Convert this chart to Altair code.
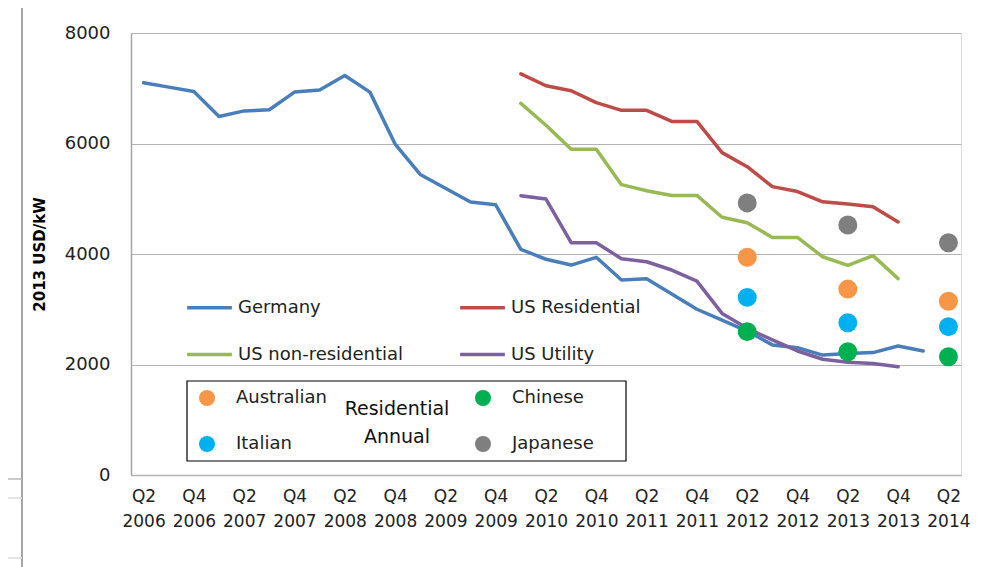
import altair as alt
import pandas as pd

# ---------------- data ----------------
quarters = ["Q2 2006", "Q3 2006", "Q4 2006",
            "Q1 2007", "Q2 2007", "Q3 2007", "Q4 2007",
            "Q1 2008", "Q2 2008", "Q3 2008", "Q4 2008",
            "Q1 2009", "Q2 2009", "Q3 2009", "Q4 2009",
            "Q1 2010", "Q2 2010", "Q3 2010", "Q4 2010",
            "Q1 2011", "Q2 2011", "Q3 2011", "Q4 2011",
            "Q1 2012", "Q2 2012", "Q3 2012", "Q4 2012",
            "Q1 2013", "Q2 2013", "Q3 2013", "Q4 2013",
            "Q1 2014", "Q2 2014"]

germany = [7100, 7020, 6940, 6490, 6590, 6610, 6930, 6970, 7230, 6930, 5990,
           5440, 5190, 4940, 4890, 4085, 3905, 3800, 3940, 3530, 3550, 3275,
           3000, 2805, 2605, 2355, 2305, 2170, 2200, 2215, 2335, 2245]
germany_start = "Q2 2006"

us_residential = [7260, 7045, 6955, 6740, 6600, 6600, 6400, 6400, 5835, 5580,
                  5220, 5130, 4945, 4905, 4855, 4580]
us_nonresidential = [6725, 6330, 5895, 5895, 5255, 5145, 5060, 5060, 4665, 4565,
                     4300, 4300, 3950, 3795, 3970, 3555]
us_utility = [5055, 4995, 4205, 4205, 3915, 3860, 3710, 3510, 2925, 2655,
              2445, 2245, 2095, 2040, 2020, 1960]
us_start = "Q1 2010"

# legend is laid out column by column
line_series = ["Germany", "US non-residential", "US Residential", "US Utility"]
line_colors = ["#4A7EBB", "#98B954", "#BE4B48", "#7D60A0"]

annual_quarters = ["Q2 2012", "Q2 2013", "Q2 2014"]
australian = [3940, 3365, 3145]
chinese = [2595, 2230, 2140]
italian = [3215, 2755, 2685]
japanese = [4925, 4525, 4205]

point_series = ["Australian", "Italian", "Chinese", "Japanese"]
point_colors = ["#F79646", "#00B0F0", "#00B050", "#7F7F7F"]

y_ticks = [0, 2000, 4000, 6000, 8000]

# ---------------- tables ----------------
rows = []
for name, vals, start in [("Germany", germany, germany_start),
                          ("US Residential", us_residential, us_start),
                          ("US non-residential", us_nonresidential, us_start),
                          ("US Utility", us_utility, us_start)]:
    s = quarters.index(start)
    for i, v in enumerate(vals):
        rows.append({"quarter": quarters[s + i], "idx": s + i, "value": v, "series": name})
lines_df = pd.DataFrame(rows)

prow = []
for name, vals in zip(["Australian", "Chinese", "Italian", "Japanese"],
                      [australian, chinese, italian, japanese]):
    for q, v in zip(annual_quarters, vals):
        prow.append({"quarter": q, "value": v, "series": name})
points_df = pd.DataFrame(prow)

FONT = "DejaVu Sans"

x_enc = alt.X("quarter:O",
              scale=alt.Scale(type="point", domain=quarters, padding=0.5),
              axis=alt.Axis(title=None, ticks=False, grid=False,
                            domainColor="#b3b3b3", domainWidth=1.5,
                            labelAngle=0, labelOverlap=False, labelPadding=13,
                            labelFont=FONT, labelFontSize=17, labelColor="#222",
                            labelLineHeight=25, labelBaseline="top",
                            labelExpr="(indexof(datum.value,'Q2')==0 || indexof(datum.value,'Q4')==0) ? split(datum.value,' ') : ''"))
y_enc = alt.Y("value:Q",
              scale=alt.Scale(domain=[0, 8000], nice=False),
              axis=alt.Axis(title="2013 USD/kW", values=y_ticks, ticks=False,
                            format="d",
                            grid=True, gridColor="#b3b3b3", gridWidth=1.2,
                            domainColor="#a6a6a6", domainWidth=1.5,
                            labelFont=FONT, labelFontSize=18, labelColor="#222",
                            labelPadding=21,
                            titleFont=FONT, titleFontSize=15, titleFontWeight="bold",
                            titleColor="#000", titlePadding=17))

lines = alt.Chart(lines_df).mark_line(strokeWidth=3.5, strokeJoin="round", strokeCap="round").encode(
    x=x_enc,
    y=y_enc,
    order=alt.Order("idx:Q"),
    stroke=alt.Stroke("series:N",
                      scale=alt.Scale(domain=line_series, range=line_colors),
                      legend=alt.Legend(orient="none", legendX=54, legendY=250,
                                        columns=2, title=None,
                                        symbolType="stroke", symbolSize=2000,
                                        symbolStrokeWidth=3.5,
                                        labelFont=FONT, labelFontSize=18,
                                        labelColor="#222", labelOffset=4,
                                        labelLimit=400,
                                        columnPadding=49, rowPadding=13,
                                        padding=0)),
)

points = alt.Chart(points_df).mark_circle(size=360, opacity=1).encode(
    x=alt.X("quarter:O", scale=alt.Scale(type="point", domain=quarters, padding=0.5)),
    y=alt.Y("value:Q"),
    fill=alt.Fill("series:N",
                  scale=alt.Scale(domain=point_series, range=point_colors),
                  legend=alt.Legend(orient="none", legendX=58, legendY=347,
                                    columns=2, title=None,
                                    symbolType="circle", symbolSize=256,
                                    symbolStrokeWidth=0,
                                    labelFont=FONT, labelFontSize=18,
                                    labelColor="#222", labelOffset=20,
                                    labelLimit=400,
                                    columnPadding=146, rowPadding=28,
                                    padding=9)),
)

dummy = pd.DataFrame({"a": [0]})
legend_box = alt.Chart(dummy).mark_rect(fill="transparent", stroke="#000", strokeWidth=1.2).encode(
    x=alt.value(56), x2=alt.value(495), y=alt.value(348), y2=alt.value(428))

annual_label = alt.Chart(dummy).mark_text(
    text="Residential\nAnnual", lineBreak="\n", font=FONT, fontSize=19,
    lineHeight=28, align="center", baseline="middle", color="#111"
).encode(x=alt.value(266), y=alt.value(376))

frame_v = alt.Chart(dummy).mark_rule(color="#a6a6a6", strokeWidth=2).encode(
    x=alt.value(-109), y=alt.value(-33), y2=alt.value(534))

frame_h = alt.Chart(pd.DataFrame({"yy": [446, 465, 525], "c": ["a", "b", "b"]})).mark_rule(
    strokeWidth=1.5).encode(
    x=alt.value(-131), x2=alt.value(-109), y=alt.Y("yy:Q", scale=None),
    color=alt.Color("c:N", scale=alt.Scale(domain=["a", "b"], range=["#b8b8b8", "#dcdcdc"]), legend=None))

chart = alt.layer(lines, points, legend_box, annual_label, frame_v, frame_h).properties(
    width=830, height=442,
    padding={"left": 123, "top": 25, "right": 12, "bottom": 92},
    autosize=alt.AutoSizeParams(type="none"),
).resolve_scale(color="independent").configure_view(strokeWidth=0).configure(background="white")

chart.save("out.html", embed_options={"renderer": "svg", "actions": False})
